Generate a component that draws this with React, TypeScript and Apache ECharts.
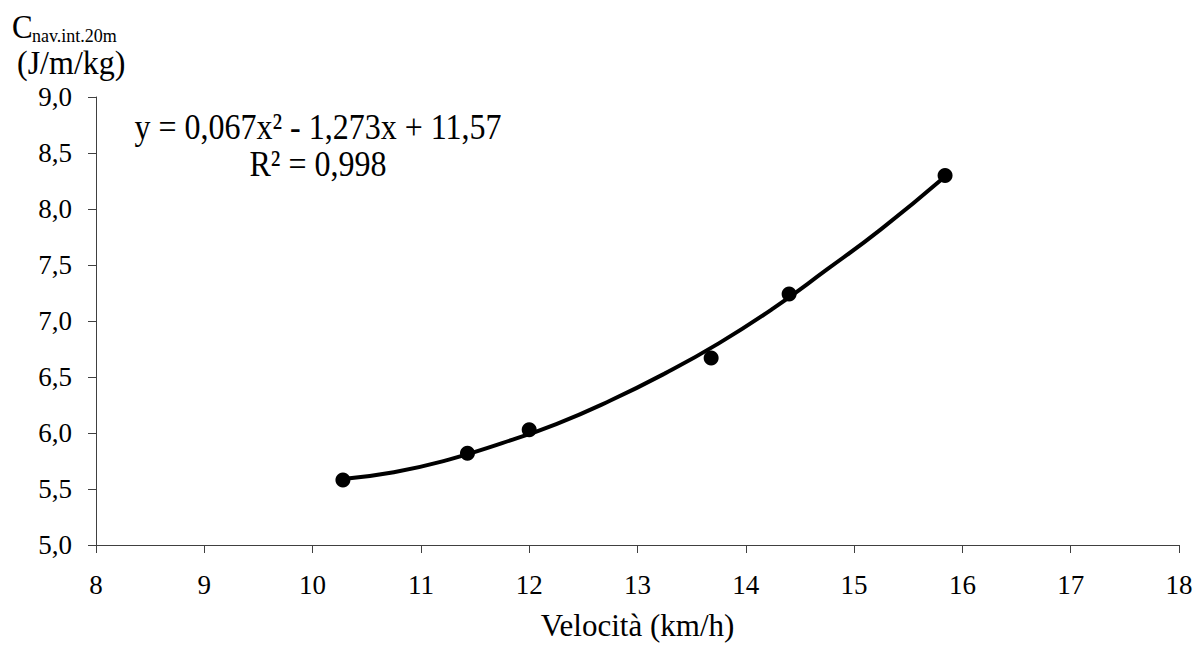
import React, { useEffect, useRef } from "react";
import * as echarts from "echarts";

const speedKmh = [10.28, 11.43, 12.0, 13.68, 14.4, 15.84];
const costValues = [5.58, 5.82, 6.03, 6.67, 7.24, 8.3];

const trendX = [10.28, 10.75, 11.25, 11.75, 12.25, 12.75, 13.25, 13.75, 14.25, 14.75, 15.25, 15.84];
const trendY = [5.59, 5.65, 5.76, 5.91, 6.08, 6.29, 6.53, 6.8, 7.11, 7.46, 7.82, 8.29];

const equationText = "y = 0,067x² - 1,273x + 11,57";
const r2Text = "R² = 0,998";
const xAxisTitle = "Velocità (km/h)";
const yTitleMain = "C";
const yTitleSub = "nav.int.20m";
const yTitleUnit = "(J/m/kg)";

const FONT = "Times New Roman";

export default function App() {
  const ref = useRef<HTMLDivElement>(null);
  useEffect(() => {
    if (!ref.current) return;
    const chart = echarts.init(ref.current, null, { renderer: "svg" });
    chart.setOption({
      animation: false,
      backgroundColor: "#ffffff",
      textStyle: { fontFamily: FONT },
      grid: { left: 96, right: 22, top: 97, bottom: 111, containLabel: false },
      xAxis: {
        type: "value",
        min: 8,
        max: 18,
        interval: 1,
        name: xAxisTitle,
        nameLocation: "middle",
        nameGap: 65,
        nameTextStyle: { fontFamily: FONT, fontSize: 31, color: "#000" },
        axisLine: { show: true, lineStyle: { color: "#404040", width: 1 } },
        axisTick: { show: true, inside: false, length: 8, lineStyle: { color: "#404040" } },
        axisLabel: { fontFamily: FONT, fontSize: 27, color: "#000", margin: 26 },
        splitLine: { show: false },
      },
      yAxis: {
        type: "value",
        min: 5,
        max: 9,
        interval: 0.5,
        axisLine: { show: true, onZero: false, lineStyle: { color: "#404040", width: 1 } },
        axisTick: { show: true, inside: false, length: 8, lineStyle: { color: "#404040" } },
        axisLabel: {
          fontFamily: FONT,
          fontSize: 27,
          color: "#000",
          margin: 24,
          formatter: (v: number) => v.toFixed(1).replace(".", ","),
        },
        splitLine: { show: false },
      },
      series: [
        {
          type: "line",
          data: trendX.map((x, i) => [x, trendY[i]]),
          smooth: true,
          symbol: "none",
          lineStyle: { color: "#000", width: 4 },
          z: 2,
        },
        {
          type: "scatter",
          data: speedKmh.map((x, i) => [x, costValues[i]]),
          symbol: "circle",
          symbolSize: 15,
          itemStyle: { color: "#000", opacity: 1 },
          z: 3,
        },
      ],
      graphic: [
        {
          type: "text",
          x: 12,
          y: 26,
          scaleY: 1.1,
          style: {
            text: yTitleMain,
            font: "31px " + FONT,
            fontFamily: FONT,
            fontSize: 31,
            fill: "#000",
            textAlign: "left",
            textVerticalAlign: "middle",
          },
        },
        {
          type: "text",
          x: 32,
          y: 36,
          style: {
            text: yTitleSub,
            font: "18px " + FONT,
            fontFamily: FONT,
            fontSize: 18,
            fill: "#000",
            textAlign: "left",
            textVerticalAlign: "middle",
          },
        },
        {
          type: "text",
          x: 17,
          y: 62,
          scaleY: 1.08,
          style: {
            text: yTitleUnit,
            font: "32px " + FONT,
            fontFamily: FONT,
            fontSize: 32,
            fill: "#000",
            textAlign: "left",
            textVerticalAlign: "middle",
          },
        },
        {
          type: "text",
          x: 318,
          y: 126,
          scaleY: 1.15,
          style: {
            text: equationText,
            font: "32px " + FONT,
            fontFamily: FONT,
            fontSize: 32,
            fill: "#000",
            textAlign: "center",
            textVerticalAlign: "middle",
          },
        },
        {
          type: "text",
          x: 318,
          y: 163,
          scaleY: 1.15,
          style: {
            text: r2Text,
            font: "32px " + FONT,
            fontFamily: FONT,
            fontSize: 32,
            fill: "#000",
            textAlign: "center",
            textVerticalAlign: "middle",
          },
        },
      ],
    });
    return () => chart.dispose();
  }, []);
  return <div ref={ref} style={{ width: 1201, height: 656, position: "absolute", left: 0, top: 0 }} />;
}
